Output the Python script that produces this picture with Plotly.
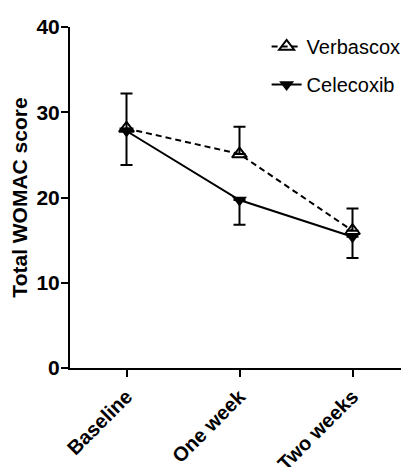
import plotly.graph_objects as go

categories = ["Baseline", "One week", "Two weeks"]
verbascox = [28.1, 25.1, 16.1]
verbascox_err_up = [4.1, 3.2, 2.6]
celecoxib = [27.8, 19.7, 15.4]
celecoxib_err_down = [4.0, 2.9, 2.5]
y_ticks = [0, 10, 20, 30, 40]

xpos = list(range(len(categories)))
FONT = "Liberation Sans, Arial, sans-serif"

fig = go.Figure()
fig.add_trace(go.Scatter(
    x=xpos, y=verbascox, name="Verbascox", mode="lines+markers",
    legendgroup="a",
    line=dict(color="black", width=2, dash="6px,4px"),
    marker=dict(symbol="triangle-up-open", size=13, color="black", line=dict(width=2, color="black")),
    error_y=dict(type="data", array=verbascox_err_up, arrayminus=[0, 0, 0], symmetric=False,
                 color="black", thickness=2, width=6),
))
fig.add_trace(go.Scatter(
    x=xpos, y=celecoxib, name="Celecoxib", mode="lines+markers",
    legendgroup="b",
    line=dict(color="black", width=2),
    marker=dict(symbol="triangle-down", size=13, color="black"),
    error_y=dict(type="data", array=[0, 0, 0], arrayminus=celecoxib_err_down, symmetric=False,
                 color="black", thickness=2, width=6),
))

# page body has an 8px margin; size the figure so the plot lands where the reference has it
fig.update_layout(
    width=401, height=459,
    margin=dict(l=62, r=0, t=19, b=99),
    paper_bgcolor="white", plot_bgcolor="white",
    font=dict(family=FONT, color="black"),
    showlegend=True,
    legend=dict(x=0.58, y=1.0, xanchor="left", yanchor="top",
                font=dict(family=FONT, size=20, color="black"),
                tracegroupgap=9, bgcolor="rgba(0,0,0,0)"),
    xaxis=dict(
        range=[-0.5, 2.5], tickmode="array", tickvals=xpos, ticktext=categories,
        tickangle=-45, ticks="outside", ticklen=7, tickwidth=2, tickcolor="black",
        showline=True, linewidth=2, linecolor="black", showgrid=False, zeroline=False,
        automargin=False,
        tickfont=dict(family=FONT, size=20, color="black", weight="bold"),
    ),
    yaxis=dict(
        range=[0, 40], tickmode="array", tickvals=y_ticks,
        ticks="outside", ticklen=7, tickwidth=2, tickcolor="black",
        showline=True, linewidth=2, linecolor="black", showgrid=False, zeroline=False,
        automargin=False, ticklabelstandoff=-3,
        tickfont=dict(family=FONT, size=21, color="black", weight="bold"),
        title=dict(text="Total WOMAC score", standoff=8,
                   font=dict(family=FONT, size=21, color="black", weight="bold")),
    ),
)

fig.write_html("out.html")
